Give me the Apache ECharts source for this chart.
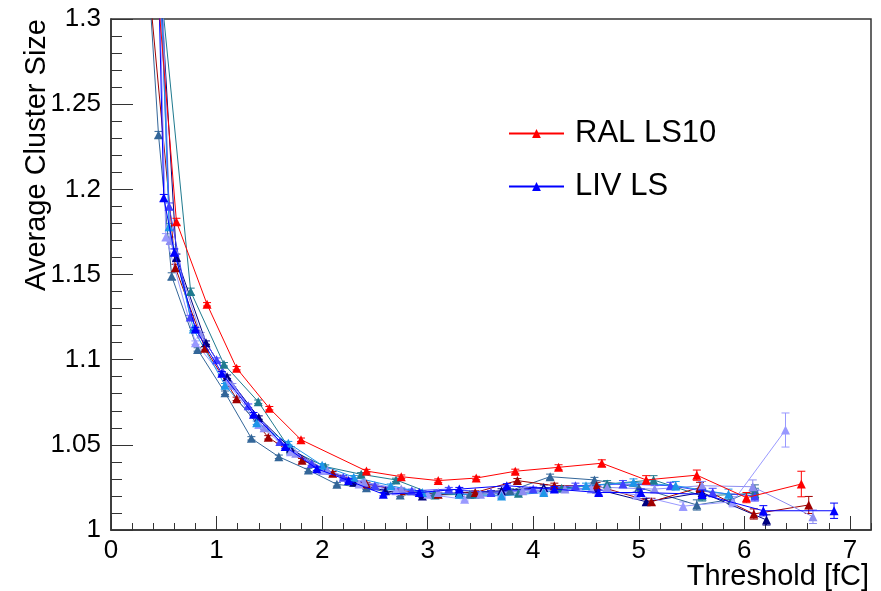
<!DOCTYPE html>
<html>
<head>
<meta charset="utf-8">
<title>Average Cluster Size</title>
<script src="https://cdn.jsdelivr.net/npm/echarts@6/dist/echarts.min.js"></script>
<style>
  html, body {margin: 0; padding: 0; background: #fff;}
  #main {width: 881px; height: 591px;}
</style>
</head>
<body>
<div id="main"></div>
<script>
/*坐标轴刻度*/
var xTicks = [0, 1, 2, 3, 4, 5, 6, 7];
var yTicks = [1, 1.05, 1.1, 1.15, 1.2, 1.25, 1.3];
var legendNames = ['RAL LS10', 'LIV LS'];

/*RAL LS10*/
var ralX = [0.32, 0.62, 0.91, 1.19, 1.50, 1.80, 2.42, 2.75, 3.10, 3.46, 3.83, 4.24, 4.65, 5.07, 5.55, 6.02, 6.54];
var ralY = [1.41, 1.181, 1.1325, 1.095, 1.0715, 1.053, 1.0346, 1.0313, 1.029, 1.0305, 1.0345, 1.0368, 1.0392, 1.0294, 1.0322, 1.019, 1.027];
var ralE = [0.004, 0.002, 0.001, 0.001, 0.001, 0.001, 0.001, 0.001, 0.001, 0.001, 0.0012, 0.0015, 0.002, 0.0025, 0.003, 0.003, 0.0075];

/*深红*/
var darkRedX = [0.30, 0.61, 0.89, 1.19, 1.49, 1.81, 2.10, 2.42, 2.75, 3.10, 3.45, 3.85, 4.20, 4.60, 5.12, 5.58, 6.09, 6.61];
var darkRedY = [1.36, 1.154, 1.1067, 1.077, 1.0544, 1.041, 1.0333, 1.027, 1.023, 1.021, 1.022, 1.029, 1.026, 1.026, 1.0166, 1.025, 1.0094, 1.0147];
var darkRedE = [0.004, 0.002, 0.001, 0.001, 0.001, 0.001, 0.001, 0.001, 0.001, 0.001, 0.001, 0.0012, 0.0015, 0.002, 0.002, 0.003, 0.003, 0.005];

/*钢蓝*/
var steelX = [0.33, 0.45, 0.575, 0.82, 1.08, 1.33, 1.59, 1.87, 2.14, 2.42, 2.74, 3.06, 3.40, 3.78, 4.16, 4.58, 5.00, 5.55, 5.88, 6.10];
var steelY = [1.35, 1.232, 1.149, 1.106, 1.0806, 1.0538, 1.043, 1.0352, 1.0268, 1.0248, 1.0206, 1.021, 1.021, 1.023, 1.0313, 1.0294, 1.025, 1.0147, 1.018, 1.0235];
var steelE = [0.004, 0.002, 0.002, 0.001, 0.001, 0.001, 0.001, 0.001, 0.001, 0.001, 0.001, 0.001, 0.001, 0.0012, 0.0015, 0.0015, 0.002, 0.003, 0.003, 0.003];

/*青色*/
var tealX = [0.47, 0.755, 1.07, 1.395, 1.70, 2.03, 2.37, 2.70, 3.07, 3.45, 3.86, 4.27, 4.70, 5.14, 5.60, 6.10];
var tealY = [1.32, 1.14, 1.0973, 1.0753, 1.047, 1.0372, 1.0327, 1.0294, 1.0206, 1.021, 1.0216, 1.0245, 1.027, 1.0294, 1.020, 1.0215];
var tealE = [0.004, 0.002, 0.001, 0.001, 0.001, 0.001, 0.001, 0.001, 0.001, 0.001, 0.0012, 0.0015, 0.002, 0.0025, 0.003, 0.003];

/*LIV LS*/
var livX = [0.44, 0.50, 0.60, 0.80, 1.05, 1.35, 1.65, 1.95, 2.25, 2.58, 2.92, 3.30, 3.75, 4.20, 4.62, 5.02, 5.60, 6.18, 6.85];
var livY = [1.35, 1.195, 1.163, 1.118, 1.092, 1.068, 1.049, 1.036, 1.029, 1.021, 1.022, 1.024, 1.026, 1.024, 1.022, 1.022, 1.021, 1.0113, 1.0113];
var livE = [0.004, 0.002, 0.002, 0.001, 0.001, 0.001, 0.001, 0.001, 0.001, 0.001, 0.001, 0.001, 0.0012, 0.0015, 0.0015, 0.002, 0.0025, 0.003, 0.0045];

/*藏青*/
var navyX = [0.45, 0.62, 0.90, 1.10, 1.40, 1.70, 2.00, 2.30, 2.60, 2.95, 3.30, 3.70, 4.10, 4.60, 5.07, 5.60, 6.21];
var navyY = [1.34, 1.16, 1.11, 1.09, 1.066, 1.048, 1.036, 1.028, 1.023, 1.020, 1.022, 1.023, 1.025, 1.024, 1.0166, 1.022, 1.0059];
var navyE = [0.004, 0.002, 0.001, 0.001, 0.001, 0.001, 0.001, 0.001, 0.001, 0.001, 0.001, 0.0012, 0.0015, 0.002, 0.002, 0.0025, 0.003];

/*中蓝*/
var midX = [0.46, 0.55, 0.75, 1.00, 1.30, 1.60, 1.90, 2.20, 2.50, 2.85, 3.20, 3.60, 4.00, 4.40, 4.85, 5.30, 5.70, 6.10];
var midY = [1.33, 1.19, 1.125, 1.10, 1.073, 1.052, 1.039, 1.031, 1.026, 1.023, 1.024, 1.022, 1.024, 1.026, 1.027, 1.026, 1.022, 1.02];
var midE = [0.004, 0.002, 0.001, 0.001, 0.001, 0.001, 0.001, 0.001, 0.001, 0.001, 0.001, 0.0012, 0.0012, 0.0015, 0.002, 0.002, 0.0025, 0.003];

/*淡紫 A*/
var lavAX = [0.45, 0.52, 0.80, 1.10, 1.40, 1.70, 2.00, 2.35, 2.70, 3.00, 3.35, 3.70, 4.10, 4.55, 4.98, 5.42, 5.89, 6.39];
var lavAY = [1.34, 1.172, 1.11, 1.087, 1.062, 1.046, 1.035, 1.027, 1.023, 1.021, 1.018, 1.021, 1.023, 1.024, 1.0206, 1.014, 1.0166, 1.0587];
var lavAE = [0.004, 0.002, 0.001, 0.001, 0.001, 0.001, 0.001, 0.001, 0.001, 0.001, 0.001, 0.0012, 0.0015, 0.0015, 0.002, 0.0025, 0.003, 0.010];

/*淡紫 B*/
var lavBX = [0.48, 0.56, 0.85, 1.15, 1.45, 1.75, 2.05, 2.40, 2.75, 3.10, 3.50, 3.90, 4.30, 4.70, 5.15, 5.60, 6.08, 6.65];
var lavBY = [1.33, 1.17, 1.115, 1.085, 1.06, 1.045, 1.035, 1.028, 1.024, 1.022, 1.021, 1.023, 1.024, 1.025, 1.024, 1.026, 1.0254, 1.0078];
var lavBE = [0.004, 0.002, 0.001, 0.001, 0.001, 0.001, 0.001, 0.001, 0.001, 0.001, 0.001, 0.0012, 0.0015, 0.0015, 0.002, 0.0025, 0.004, 0.004];

/*天蓝*/
var skyX = [0.45, 0.55, 0.78, 1.08, 1.38, 1.68, 2.00, 2.30, 2.65, 2.95, 3.30, 3.70, 4.10, 4.50, 4.95, 5.35, 5.85];
var skyY = [1.36, 1.178, 1.118, 1.085, 1.063, 1.051, 1.038, 1.031, 1.026, 1.022, 1.021, 1.020, 1.022, 1.026, 1.028, 1.026, 1.021];
var skyE = [0.004, 0.002, 0.001, 0.001, 0.001, 0.001, 0.001, 0.001, 0.001, 0.001, 0.001, 0.0012, 0.0015, 0.0015, 0.002, 0.0025, 0.003];

var fontName = '"Liberation Sans", Arial, sans-serif';
var frameColor = '#333';

/*组合散点+误差棒*/
function makeSeries(name, color, xs, ys, es, z) {
  var pts = [], errs = [];
  for (var i = 0; i < xs.length; i++) {
    pts.push([xs[i], ys[i]]);
    errs.push([xs[i], ys[i], es[i]]);
  }
  var line = {
    name: name,
    type: 'line',
    data: pts,
    symbol: 'triangle',
    symbolSize: 9,
    showAllSymbol: true,
    clip: true,
    z: z,
    lineStyle: {color: color, width: 1},
    itemStyle: {color: color}
  };
  var bars = {
    name: name + ' err',
    type: 'custom',
    data: errs,
    clip: true,
    z: z,
    encode: {x: 0, y: 1},
    renderItem: function (params, api) {
      var x = api.value(0), y = api.value(1), e = api.value(2);
      var top = api.coord([x, y + e]);
      var bot = api.coord([x, y - e]);
      var st = {stroke: color, lineWidth: 1};
      return {
        type: 'group',
        children: [
          {type: 'line', shape: {x1: top[0], y1: top[1], x2: bot[0], y2: bot[1]}, style: st},
          {type: 'line', shape: {x1: top[0] - 4, y1: top[1], x2: top[0] + 4, y2: top[1]}, style: st},
          {type: 'line', shape: {x1: bot[0] - 4, y1: bot[1], x2: bot[0] + 4, y2: bot[1]}, style: st}
        ]
      };
    }
  };
  return [line, bars];
}

var series = [].concat(
  makeSeries('steel', '#336699', steelX, steelY, steelE, 2),
  makeSeries('teal', '#1f7a8f', tealX, tealY, tealE, 2),
  makeSeries('navy', '#000080', navyX, navyY, navyE, 2),
  makeSeries('dark red', '#a00000', darkRedX, darkRedY, darkRedE, 2),
  makeSeries('lav B', '#8c8cf0', lavBX, lavBY, lavBE, 2),
  makeSeries('lav A', '#9999ff', lavAX, lavAY, lavAE, 2),
  makeSeries('mid', '#4040ff', midX, midY, midE, 2),
  makeSeries('sky', '#1e96e8', skyX, skyY, skyE, 2),
  makeSeries('LIV LS', '#0000ff', livX, livY, livE, 3),
  makeSeries('RAL LS10', '#ff0000', ralX, ralY, ralE, 4)
);

var chart = echarts.init(document.getElementById('main'));
var option = {
  animation: false,
  backgroundColor: '#fff',
  grid: {
    left: 111, top: 19, right: 10, bottom: 61,
    show: true, borderColor: frameColor, borderWidth: 1.5
  },
  legend: {
    data: legendNames,
    orient: 'vertical',
    left: 508,
    top: 118,
    padding: 0,
    itemWidth: 55,
    itemHeight: 11,
    itemGap: 22,
    textStyle: {fontFamily: fontName, fontSize: 31, color: '#000', padding: [0, 0, 0, 6]}
  },
  xAxis: [{
    type: 'value',
    min: xTicks[0],
    max: 7.2,
    interval: 1,
    position: 'bottom',
    splitLine: {show: false},
    axisLine: {lineStyle: {color: frameColor, width: 1.5}},
    axisTick: {inside: true, length: 14, lineStyle: {color: frameColor}},
    axisLabel: {
      color: '#000', fontFamily: fontName, fontSize: 26, margin: 8,
      showMaxLabel: false,
      formatter: function (v) { return xTicks.indexOf(v) >= 0 ? String(v) : ''; }
    }
  }, {
    /*次刻度*/
    type: 'value',
    min: 0,
    max: 7.2,
    interval: 0.2,
    position: 'bottom',
    splitLine: {show: false},
    axisLine: {show: false},
    axisTick: {inside: true, length: 7, lineStyle: {color: frameColor}},
    axisLabel: {show: false}
  }],
  yAxis: {
    type: 'value',
    min: yTicks[0],
    max: yTicks[yTicks.length - 1],
    interval: 0.05,
    splitLine: {show: false},
    axisLine: {lineStyle: {color: frameColor, width: 1.5}},
    axisTick: {inside: true, length: 22, lineStyle: {color: frameColor}},
    minorTick: {show: true, splitNumber: 5, length: 11, lineStyle: {color: frameColor}},
    axisLabel: {
      color: '#000', fontFamily: fontName, fontSize: 26, margin: 10,
      formatter: function (v) { return String(Math.round(v * 100) / 100); }
    }
  },
  graphic: [{
    type: 'text',
    x: 37, y: 19,
    rotation: Math.PI / 2,
    style: {
      text: 'Average Cluster Size', fill: '#000',
      font: '29px ' + fontName, align: 'right', verticalAlign: 'middle'
    }
  }, {
    type: 'text',
    x: 869, y: 577,
    style: {
      text: 'Threshold [fC]', fill: '#000',
      font: '29px ' + fontName, align: 'right', verticalAlign: 'middle'
    }
  }],
  series: series
};
chart.setOption(option);
</script>
</body>
</html>
